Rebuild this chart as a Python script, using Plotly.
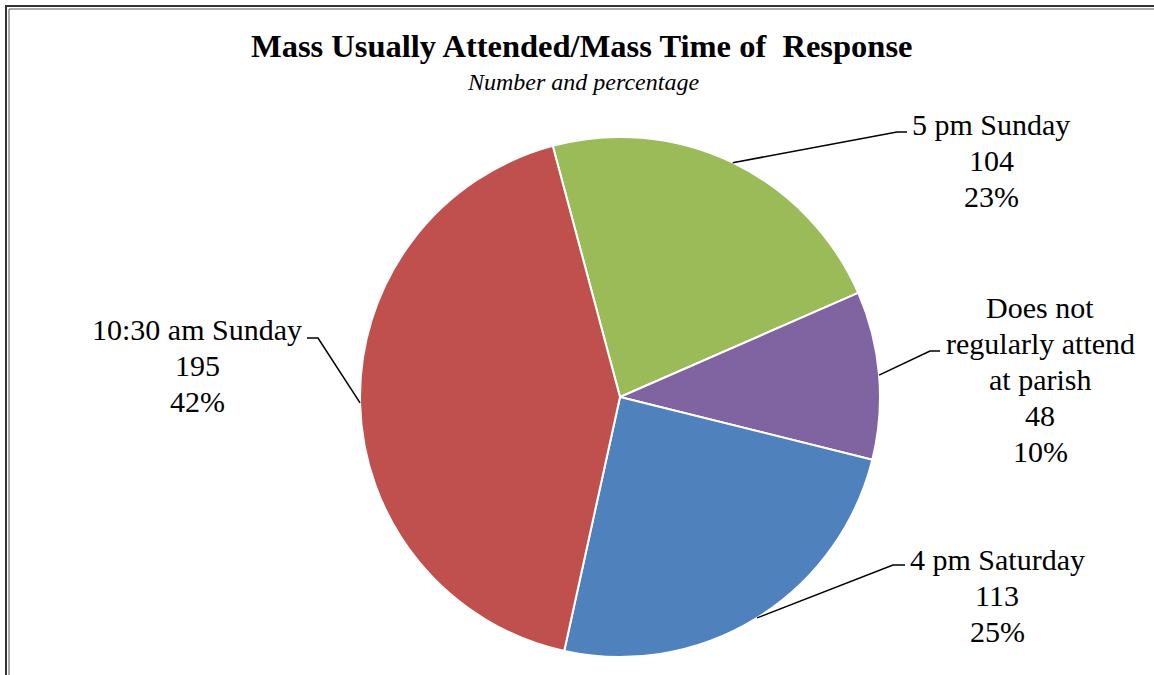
import math
import plotly.graph_objects as go

# ---- data ----
labels = ["5 pm Sunday", "Does not regularly attend at parish", "4 pm Saturday", "10:30 am Sunday"]
label_lines = [["5 pm Sunday"], ["Does not", "regularly attend", "at parish"], ["4 pm Saturday"], ["10:30 am Sunday"]]
values = [104, 48, 113, 195]
colors = ["#9BBB59", "#8064A2", "#4F81BD", "#C0504D"]
title_text = "Mass Usually Attended/Mass Time of  Response"
subtitle_text = "Number and percentage"

# ---- layout constants (pixels) ----
W, H = 1154, 675
CX, CY, R = 620, 397, 260
ROT = -15
FONT = "Liberation Serif"
LINE_H = 36
# text center x, first-line y, elbow x, elbow y, end x
label_pos = [
    (991, 124, 897, 132, 907),
    (1040, 307, 930, 351, 940),
    (997, 559, 893, 565, 905),
    (197, 329, 318, 338, 307),
]


def px(x):
    return x / W


def py(y):
    return 1 - y / H


fig = go.Figure()
fig.add_trace(go.Pie(
    labels=labels, values=values, sort=False, direction="clockwise", rotation=ROT,
    marker=dict(colors=colors, line=dict(color="white", width=2)),
    textinfo="none", hoverinfo="label+value+percent", showlegend=False,
    domain=dict(x=[px(CX - R), px(CX + R)], y=[py(CY + R), py(CY - R)]),
))

total = sum(values)
annotations = []
shapes = []
cum = 0
for i, v in enumerate(values):
    mid = ROT + (cum + v / 2) / total * 360
    cum += v
    ang = math.radians(mid)
    ex, ey = CX + R * math.sin(ang), CY - R * math.cos(ang)
    tx, ty0, elx, ely, endx = label_pos[i]
    shapes.append(dict(type="path", xref="paper", yref="paper",
                       path=f"M {px(ex)},{py(ey)} L {px(elx)},{py(ely)} L {px(endx)},{py(ely)}",
                       line=dict(color="black", width=1.5)))
    lines = label_lines[i] + [str(v), f"{round(v / total * 100)}%"]
    for k, t in enumerate(lines):
        annotations.append(dict(x=px(tx), y=py(ty0 + k * LINE_H), xref="paper", yref="paper",
                                text=t, showarrow=False, xanchor="center", yanchor="middle",
                                font=dict(family=FONT, size=30, color="black")))

annotations.append(dict(x=px(582), y=py(46), xref="paper", yref="paper", text=f"<b>{title_text}</b>",
                        showarrow=False, xanchor="center", yanchor="middle",
                        font=dict(family=FONT, size=32.5, color="black")))
annotations.append(dict(x=px(583), y=py(82), xref="paper", yref="paper", text=f"<i>{subtitle_text}</i>",
                        showarrow=False, xanchor="center", yanchor="middle",
                        font=dict(family=FONT, size=24, color="black")))

# double border (top and left edges only; the others fall outside the picture)
for off, col, wd in [(6, "#333333", 2), (9, "#555555", 1)]:
    shapes.append(dict(type="path", xref="paper", yref="paper",
                       path=f"M {px(off)},{py(H + 20)} L {px(off)},{py(off)} L {px(W + 20)},{py(off)}",
                       line=dict(color=col, width=wd)))

fig.update_layout(width=W, height=H, margin=dict(l=0, r=0, t=0, b=0),
                  paper_bgcolor="white", plot_bgcolor="white",
                  annotations=annotations, shapes=shapes)
fig.write_html("out.html", config={"displayModeBar": False},
               post_script="document.body.style.margin='0';document.body.style.overflow='hidden';")
